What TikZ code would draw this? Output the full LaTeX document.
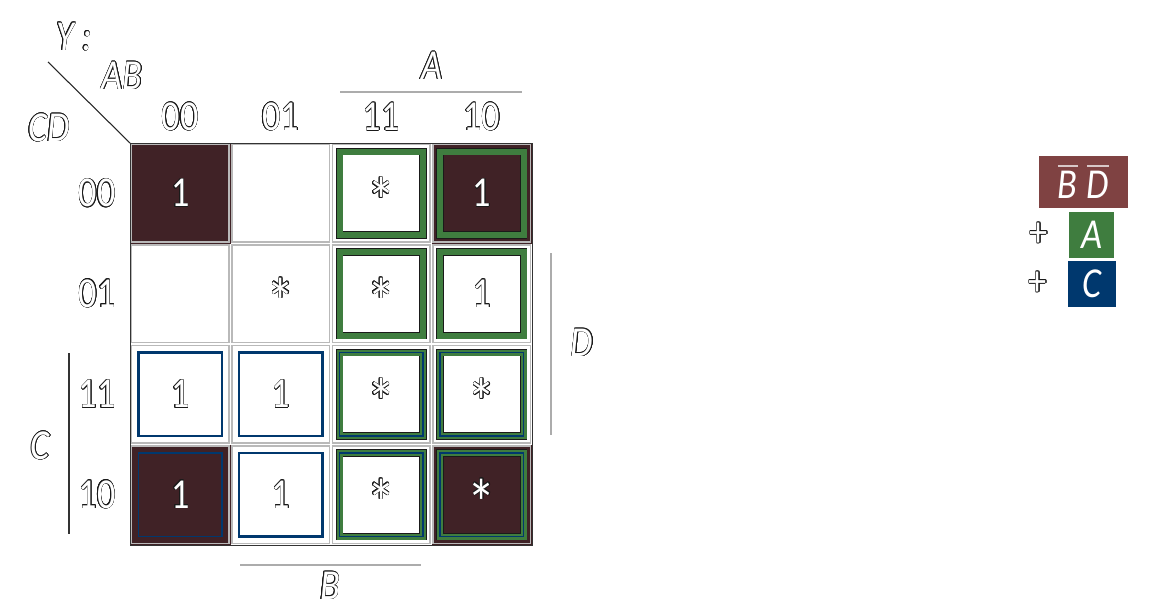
\documentclass[tikz,border=0pt]{standalone}
\usepackage{fontspec}
\setmainfont{Carlito}[FakeStretch=0.85]
\usepackage{contour}
\contourlength{0.42pt}
\usetikzlibrary{positioning}
\definecolor{cellred}{HTML}{402226}
\definecolor{legred}{HTML}{7F4242}
\definecolor{grpgreen}{HTML}{3F7D3F}
\definecolor{grpblue}{HTML}{00386E}
\definecolor{edgedark}{HTML}{1A1A1A}
\definecolor{barpale}{HTML}{D8C8C8}
\newcommand{\hollow}[1]{\contour{edgedark}{#1}}
\newcommand{\kmstar}{{\fontsize{50}{50}\selectfont *}}
\newcommand{\barred}[1]{\vbox{{\color{barpale}\hrule height 1.1pt}\kern 3.5pt\hbox{#1}}}
\tikzset{
  kmfont/.style={font=\fontsize{32}{36}\selectfont, text=white},
  kmital/.style={font=\fontsize{32}{36}\selectfont\itshape, text=white},
  legfont/.style={font=\fontsize{32}{36}\selectfont\itshape, text=white, inner sep=0pt},
  greenring/.style={draw=edgedark, line width=0.6pt, double=grpgreen, double distance=4.5pt},
  labelbar/.style={draw=gray!65, line width=1pt},
}

\begin{document}
\begin{tikzpicture}[x=0.75pt,y=-0.75pt]
  \useasboundingbox (0,0) rectangle (1152,610);
  % cell centres
  \foreach \r in {0,...,3} {
    \foreach \c in {0,...,3} {
      \coordinate (cell-\r-\c) at (180.25+100.5*\c, 193.25+100.5*\r);
    }
  }
  % B'D' corners
  \foreach \r/\c in {0/0,0/3,3/0,3/3} {
    \fill[cellred] (cell-\r-\c) ++(-50.25,-50.25) rectangle ++(100.5,100.5);
  }
  \foreach \r in {0,...,3} {
    \foreach \c in {0,...,3} {
      \draw[gray!55, line width=1.1pt] (cell-\r-\c) ++(-48.75,-48.75) rectangle ++(97.5,97.5);
    }
  }
  \coordinate (grid-nw) at (130,143);
  \coordinate (grid-se) at (532,545);
  \draw[gray!40!black, line width=0.7pt] (grid-nw) rectangle (grid-se);

  % group A
  \foreach \r in {0,...,3} {
    \foreach \c in {2,3} {
      \draw[greenring] (cell-\r-\c) ++(-41.75,-41.75) rectangle ++(83.5,83.5);
    }
  }
  % group C
  \foreach \r/\c/\w in {2/0/2pt,2/1/2pt,3/0/0.8pt,3/1/2pt,2/2/0.9pt,2/3/0.9pt,3/2/0.9pt,3/3/0.9pt} {
    \draw[grpblue, line width=\w] (cell-\r-\c) ++(-41.75,-41.75) rectangle ++(83.5,83.5);
  }

  % cell values
  \foreach \r/\c/\v in {0/0/1,0/3/1,1/3/1,2/0/1,2/1/1,3/0/1,3/1/1} {
    \node[kmfont] (val-\r-\c) at (cell-\r-\c) {\hollow{\v}};
  }
  \foreach \r/\c in {0/2,1/1,1/2,2/2,2/3,3/2,3/3} {
    \node[kmfont, yshift=-6pt] (val-\r-\c) at (cell-\r-\c) {\hollow{\kmstar}};
  }

  % headers
  \foreach \c/\t in {0/00,1/01,2/11,3/10} {
    \node[kmfont] (colhd-\c) at (180.25+100.5*\c,117) {\hollow{\t}};
  }
  \foreach \r/\t in {0/00,1/01,2/11,3/10} {
    \node[kmfont] (rowhd-\r) at (97,193.25+100.5*\r) {\hollow{\t}};
  }
  \node[kmital] (ylab) at (74,37) {\hollow{Y :}};
  \node[kmital] (ablab) at (122,76) {\hollow{AB}};
  \node[kmital] (cdlab) at (49,128) {\hollow{CD}};
  \coordinate (diag-end) at (48,62);
  \draw[gray!30!black, line width=0.8pt] (diag-end) -- (grid-nw);

  % variable bars
  \coordinate (barA-l) at (340,92);
  \coordinate (barA-r) at (522,92);
  \draw[labelbar] (barA-l) -- (barA-r);
  \node[kmital] (alab) at (432,66) {\hollow{A}};
  \coordinate (barD-t) at (551,253);
  \coordinate (barD-b) at (551,435);
  \draw[labelbar] (barD-t) -- (barD-b);
  \node[kmital] (dlab) at (582,343) {\hollow{D}};
  \coordinate (barC-t) at (69,353);
  \coordinate (barC-b) at (69,534);
  \draw[gray!40!black, line width=0.8pt] (barC-t) -- (barC-b);
  \node[kmital] (clab) at (40,446) {\hollow{C}};
  \coordinate (barB-l) at (240,565);
  \coordinate (barB-r) at (421,565);
  \draw[labelbar] (barB-l) -- (barB-r);
  \node[kmital, inner sep=1pt] (blab) at (330,586) {\hollow{B}};

  % legend
  \node[legfont, fill=legred, minimum width=66.75pt, minimum height=39pt] (legBD) at (1083.5,182)
    {\barred{B}\hspace{7pt}\barred{D}};
  \node[legfont, fill=grpgreen, minimum width=33.75pt, minimum height=34.5pt] (legA) at (1091.5,235) {A};
  \node[legfont, fill=grpblue, minimum width=36pt, minimum height=34.5pt] (legC) at (1092,284) {C};
  \node[kmfont, left=12pt of legA] (plusA) {\hollow{+}};
  \node[kmfont, left=12pt of legC] (plusC) {\hollow{+}};
\end{tikzpicture}
\end{document}
